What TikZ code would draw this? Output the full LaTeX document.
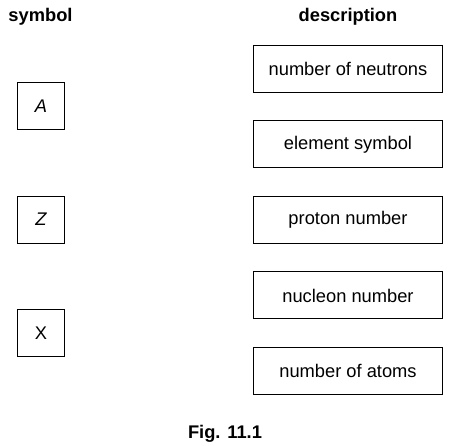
\documentclass[tikz,border=0pt]{standalone}
\usepackage{fontspec}
\setmainfont{Liberation Sans}
\begin{document}
\begin{tikzpicture}[x=1pt,y=-1pt,
  every node/.style={font=\fontsize{18.3}{22}\selectfont},
  symbox/.style={draw, line width=1pt, minimum width=47pt, minimum height=47pt, inner sep=0pt},
  descbox/.style={draw, line width=1pt, minimum width=189pt, minimum height=47pt, inner sep=0pt},
  heading/.style={font=\fontsize{18.3}{22}\selectfont\bfseries, inner sep=0pt}]
\useasboundingbox (0,0) rectangle (456,446);
\node[heading, anchor=base] (hs) at (40.5,22) {symbol};
\node[heading, anchor=base] (hd) at (348,22) {description};
\node[symbox] (A) at (41,106.5) {\itshape A};
\node[symbox] (Z) at (41,219.7) {\itshape Z};
\node[symbox] (X) at (41,333.3) {X};
\node[descbox] (d1) at (348,68.7) {number of neutrons};
\node[descbox] (d2) at (348,144.3) {element symbol};
\node[descbox] (d3) at (348,219.7) {proton number};
\node[descbox] (d4) at (348,295.5) {nucleon number};
\node[descbox] (d5) at (348,371.2) {number of atoms};
\node[heading, anchor=base] (fig) at (225,439) {Fig. 11.1};
\end{tikzpicture}
\end{document}
